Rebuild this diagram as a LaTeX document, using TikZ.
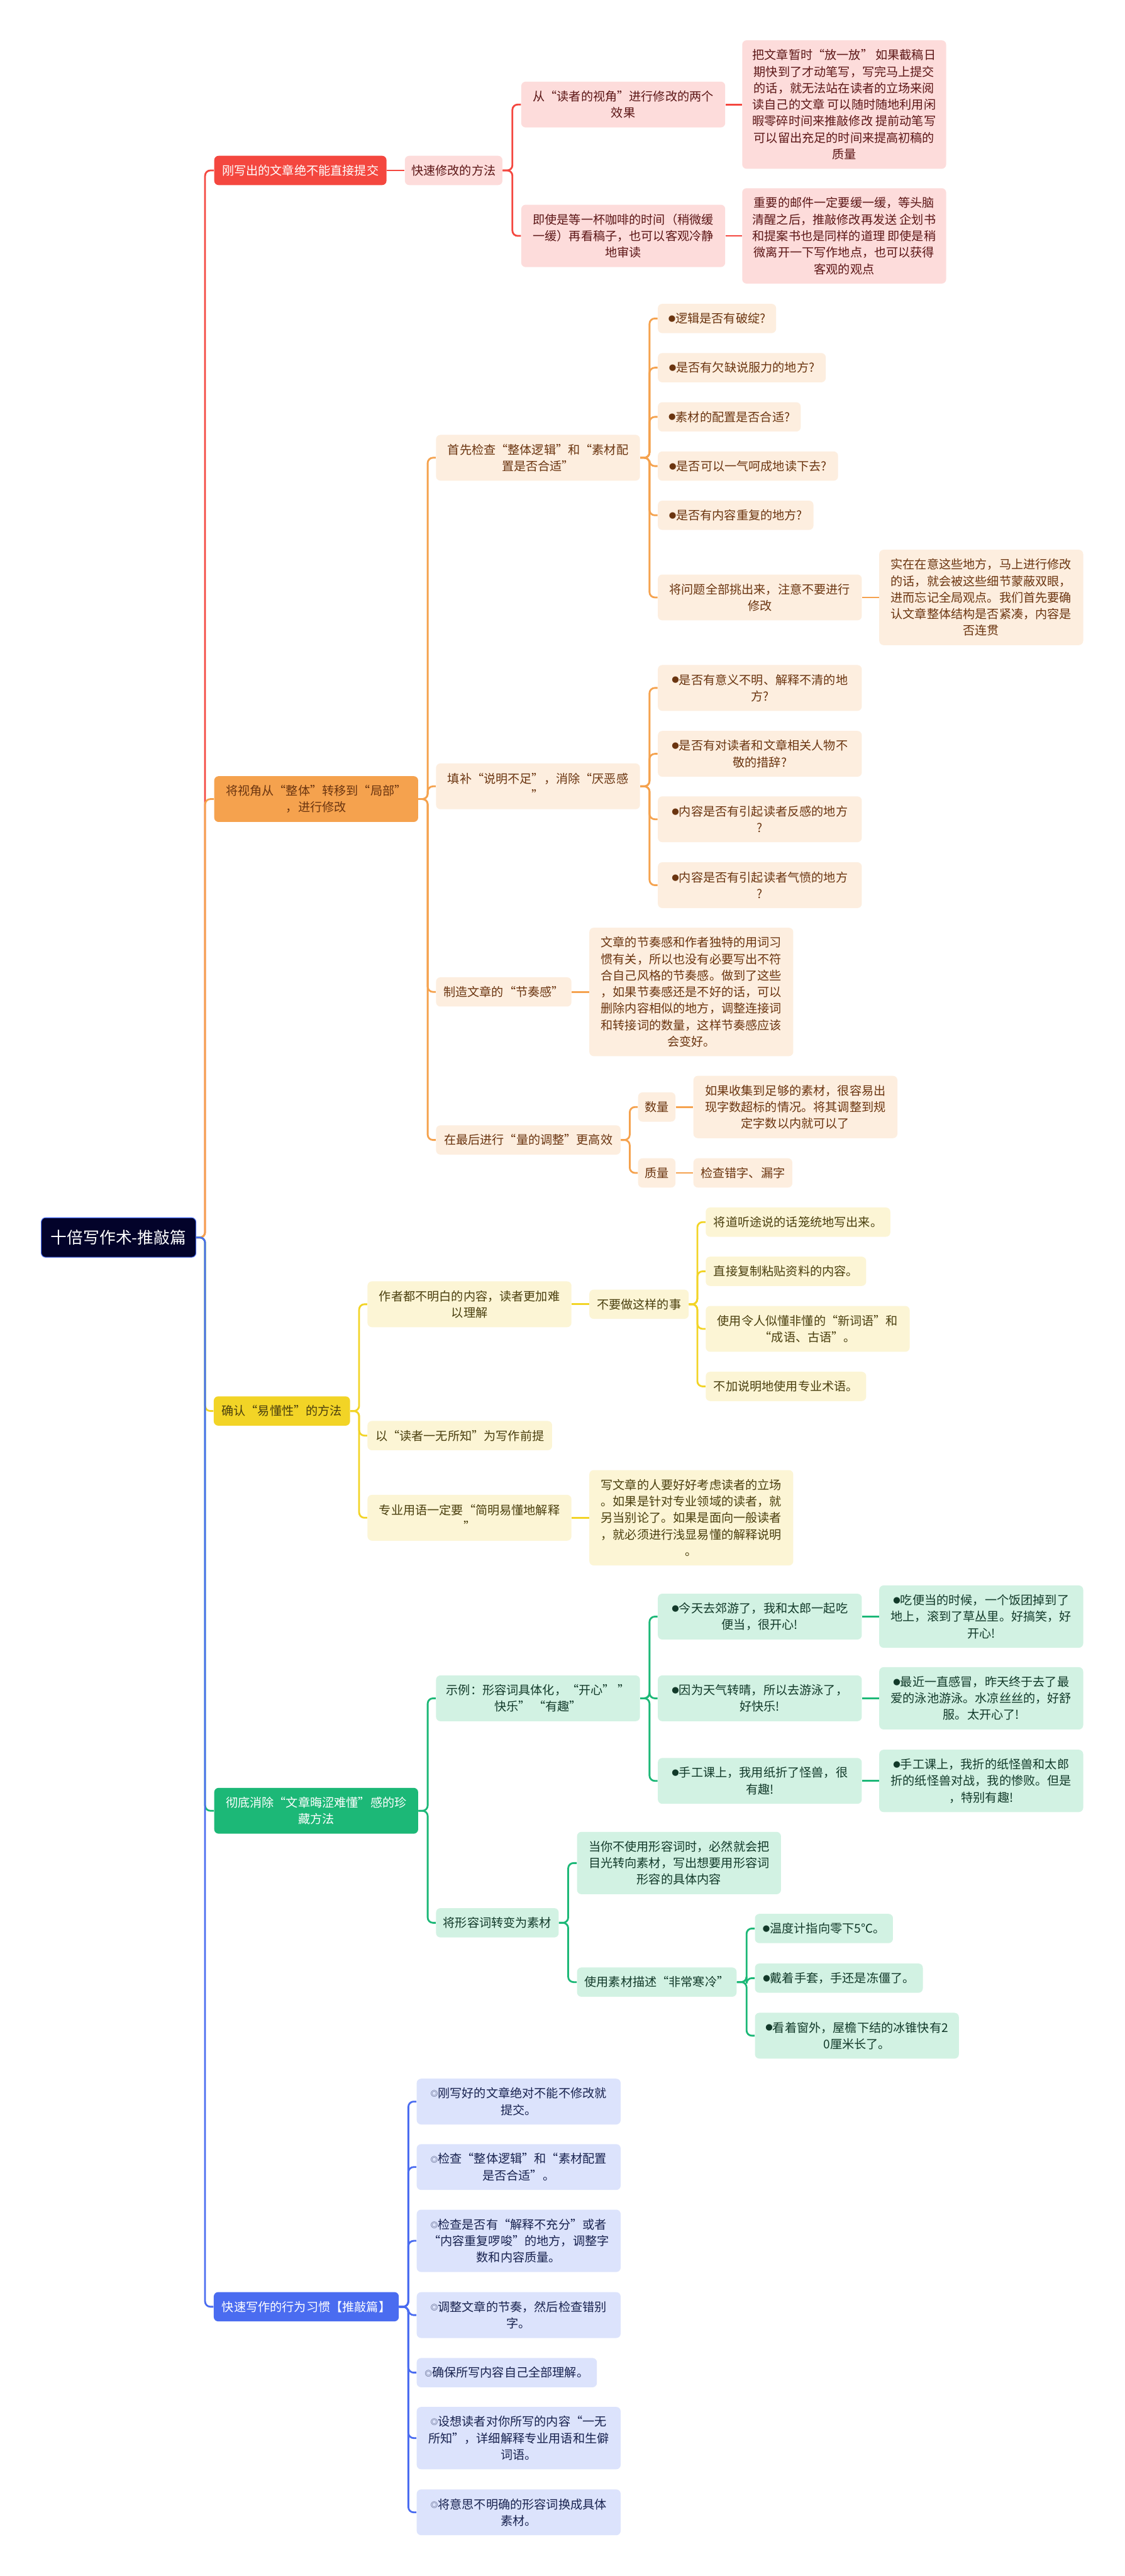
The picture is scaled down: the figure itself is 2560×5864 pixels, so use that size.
\documentclass[tikz,border=0pt]{standalone}
\usepackage{fontspec}
\newfontfamily\cjk{Noto Sans CJK SC}

\definecolor{redA}{HTML}{F4473F}
\definecolor{redL}{HTML}{FDDCDB}
\definecolor{redT}{HTML}{5C1616}
\definecolor{orgA}{HTML}{F5A24E}
\definecolor{orgL}{HTML}{FDEEDF}
\definecolor{orgT}{HTML}{6B3510}
\definecolor{ylwA}{HTML}{F2D426}
\definecolor{ylwL}{HTML}{FCF5D5}
\definecolor{ylwT}{HTML}{4A3F0E}
\definecolor{grnA}{HTML}{1CB877}
\definecolor{grnL}{HTML}{D2F2E3}
\definecolor{grnT}{HTML}{123A2A}
\definecolor{bluA}{HTML}{4A6CF0}
\definecolor{bluL}{HTML}{DCE3FC}
\definecolor{bluT}{HTML}{18224F}
\definecolor{rootbg}{HTML}{03032A}

\newcommand\dotmark{\raisebox{0.12em}{\scalebox{0.6}{●}}}
\newcommand\ringmark{\raisebox{0.1em}{\scalebox{0.6}{◎}}}

\begin{document}
\begin{tikzpicture}[
    x=0.01cm, y=-0.01cm,
    box/.style={rounded corners=0.1cm, align=center, inner xsep=0.08cm, inner ysep=0.04cm,
        font=\cjk\fontsize{7.8pt}{10.7pt}\selectfont, anchor=west},
    nl/.style={minimum height=0.29cm+0.376cm*#1},
    wide/.style={minimum width=4.64cm},
    rootbox/.style={rounded corners=0.1cm, align=center, fill=rootbg, draw=bluA, line width=0.015cm,
        text=white, minimum width=3.52cm, minimum height=0.90cm, font=\cjk\fontsize{10.5pt}{12pt}\selectfont},
    redtop/.style={box, fill=redA, text=white},
    redbox/.style={box, fill=redL, text=redT},
    redline/.style={draw=redA, line width=0.04cm, rounded corners=0.12cm},
    orgtop/.style={box, fill=orgA, text=orgT},
    orgbox/.style={box, fill=orgL, text=orgT},
    orgline/.style={draw=orgA, line width=0.04cm, rounded corners=0.12cm},
    ylwtop/.style={box, fill=ylwA, text=ylwT},
    ylwbox/.style={box, fill=ylwL, text=ylwT},
    ylwline/.style={draw=ylwA, line width=0.04cm, rounded corners=0.12cm},
    grntop/.style={box, fill=grnA, text=white},
    grnbox/.style={box, fill=grnL, text=grnT},
    grnline/.style={draw=grnA, line width=0.04cm, rounded corners=0.12cm},
    blutop/.style={box, fill=bluA, text=white},
    blubox/.style={box, fill=bluL, text=bluT},
    bluline/.style={draw=bluA, line width=0.04cm, rounded corners=0.12cm}
]
\useasboundingbox (0,0) rectangle (2560,5864);
\fill[white] (0,0) rectangle (2560,5864);
% Root
\node[rootbox] (root) at (270, 2817) {十倍写作术-推敲篇};

% Section 1
\node[redtop, minimum width=3.92cm, nl=1] (s1)  at (487, 388) {刚写出的文章绝不能直接提交};
\node[redbox, minimum width=2.22cm, nl=1] (s1a) at (921, 388) {快速修改的方法};
\node[redbox, wide, nl=2] (s1a1) at (1186, 238) {从“读者的视角”进行修改的两个\\效果};
\node[redbox, wide, nl=3] (s1a2) at (1186, 537) {即使是等一杯咖啡的时间（稍微缓\\一缓）再看稿子，也可以客观冷静\\地审读};
\node[redbox, wide, nl=7] (s1a1d) at (1689, 238) {把文章暂时“放一放” 如果截稿日\\期快到了才动笔写，写完马上提交\\的话，就无法站在读者的立场来阅\\读自己的文章 可以随时随地利用闲\\暇零碎时间来推敲修改 提前动笔写\\可以留出充足的时间来提高初稿的\\质量};
\node[redbox, wide, nl=5] (s1a2d) at (1689, 537) {重要的邮件一定要缓一缓，等头脑\\清醒之后，推敲修改再发送 企划书\\和提案书也是同样的道理 即使是稍\\微离开一下写作地点，也可以获得\\客观的观点};
\draw[redline] (root.east) -- ++(20,0) |- (s1.west);
\draw[redline] (s1) -- (s1a);
\draw[redline] (s1a.east) -- ++(22,0) |- (s1a1.west);
\draw[redline] (s1a.east) -- ++(22,0) |- (s1a2.west);
\draw[redline] (s1a1) -- (s1a1d);
\draw[redline] (s1a2) -- (s1a2d);

% Section 2
\node[orgtop, wide, nl=2] (s2) at (487, 1819) {将视角从“整体”转移到“局部”\\，进行修改};
\node[orgbox, wide, nl=2] (s2a) at (992, 1042) {首先检查“整体逻辑”和“素材配\\置是否合适”};
\node[orgbox, minimum width=2.69cm, nl=1] (s2a1) at (1497, 725)  {\dotmark 逻辑是否有破绽?};
\node[orgbox, minimum width=3.82cm, nl=1] (s2a2) at (1497, 837)  {\dotmark 是否有欠缺说服力的地方?};
\node[orgbox, minimum width=3.25cm, nl=1] (s2a3) at (1497, 949)  {\dotmark 素材的配置是否合适?};
\node[orgbox, minimum width=4.10cm, nl=1] (s2a4) at (1497, 1061) {\dotmark 是否可以一气呵成地读下去?};
\node[orgbox, minimum width=3.54cm, nl=1] (s2a5) at (1497, 1173) {\dotmark 是否有内容重复的地方?};
\node[orgbox, wide, nl=2] (s2a6) at (1497, 1360) {将问题全部挑出来，注意不要进行\\修改};
\node[orgbox, wide, nl=5] (s2a6d) at (2001, 1360) {实在在意这些地方，马上进行修改\\的话，就会被这些细节蒙蔽双眼，\\进而忘记全局观点。我们首先要确\\认文章整体结构是否紧凑，内容是\\否连贯};
\node[orgbox, wide, nl=2] (s2b) at (992, 1790) {填补“说明不足”，消除“厌恶感\\”};
\node[orgbox, wide, nl=2] (s2b1) at (1497, 1566) {\dotmark 是否有意义不明、解释不清的地\\方?};
\node[orgbox, wide, nl=2] (s2b2) at (1497, 1716) {\dotmark 是否有对读者和文章相关人物不\\敬的措辞?};
\node[orgbox, wide, nl=2] (s2b3) at (1497, 1865) {\dotmark 内容是否有引起读者反感的地方\\?};
\node[orgbox, wide, nl=2] (s2b4) at (1497, 2015) {\dotmark 内容是否有引起读者气愤的地方\\?};
\node[orgbox, minimum width=3.08cm, nl=1] (s2c) at (992, 2258) {制造文章的“节奏感”};
\node[orgbox, wide, nl=7] (s2c1) at (1341, 2258) {文章的节奏感和作者独特的用词习\\惯有关，所以也没有必要写出不符\\合自己风格的节奏感。做到了这些\\，如果节奏感还是不好的话，可以\\删除内容相似的地方，调整连接词\\和转接词的数量，这样节奏感应该\\会变好。};
\node[orgbox, minimum width=4.20cm, nl=1] (s2d) at (992, 2595) {在最后进行“量的调整”更高效};
\node[orgbox, minimum width=0.85cm, nl=1] (s2d1) at (1452, 2520) {数量};
\node[orgbox, minimum width=0.85cm, nl=1] (s2d2) at (1452, 2670) {质量};
\node[orgbox, wide, nl=3] (s2d1a) at (1578, 2520) {如果收集到足够的素材，很容易出\\现字数超标的情况。将其调整到规\\定字数以内就可以了};
\node[orgbox, minimum width=2.25cm, nl=1] (s2d2a) at (1578, 2670) {检查错字、漏字};
\draw[orgline] (root.east) -- ++(20,0) |- (s2.west);
\foreach \k in {s2a,s2b,s2c,s2d}
    \draw[orgline] (s2.east) -- ++(21,0) |- (\k.west);
\foreach \k in {s2a1,s2a2,s2a3,s2a4,s2a5,s2a6}
    \draw[orgline] (s2a.east) -- ++(21,0) |- (\k.west);
\draw[orgline] (s2a6) -- (s2a6d);
\foreach \k in {s2b1,s2b2,s2b3,s2b4}
    \draw[orgline] (s2b.east) -- ++(21,0) |- (\k.west);
\draw[orgline] (s2c) -- (s2c1);
\draw[orgline] (s2d.east) -- ++(20,0) |- (s2d1.west);
\draw[orgline] (s2d.east) -- ++(20,0) |- (s2d2.west);
\draw[orgline] (s2d1) -- (s2d1a);
\draw[orgline] (s2d2) -- (s2d2a);

% Section 3
\node[ylwtop, minimum width=3.10cm, nl=1] (s3) at (486, 3212) {确认“易懂性”的方法};
\node[ylwbox, wide, nl=2] (s3a) at (836, 2969) {作者都不明白的内容，读者更加难\\以理解};
\node[ylwbox, minimum width=2.26cm, nl=1] (s3a1) at (1341, 2969) {不要做这样的事};
\node[ylwbox, minimum width=4.20cm, nl=1] (s3a1a) at (1606, 2782) {将道听途说的话笼统地写出来。};
\node[ylwbox, minimum width=3.65cm, nl=1] (s3a1b) at (1606, 2894) {直接复制粘贴资料的内容。};
\node[ylwbox, wide, nl=2] (s3a1c) at (1606, 3025) {使用令人似懂非懂的“新词语”和\\“成语、古语”。};
\node[ylwbox, minimum width=3.65cm, nl=1] (s3a1d) at (1606, 3156) {不加说明地使用专业术语。};
\node[ylwbox, minimum width=4.20cm, nl=1] (s3b) at (836, 3268) {以“读者一无所知”为写作前提};
\node[ylwbox, wide, nl=2] (s3c) at (836, 3455) {专业用语一定要“简明易懂地解释\\”};
\node[ylwbox, wide, nl=5] (s3c1) at (1341, 3455) {写文章的人要好好考虑读者的立场\\。如果是针对专业领域的读者，就\\另当别论了。如果是面向一般读者\\，就必须进行浅显易懂的解释说明\\。};
\draw[ylwline] (root.east) -- ++(20,0) |- (s3.west);
\foreach \k in {s3a,s3b,s3c}
    \draw[ylwline] (s3.east) -- ++(20,0) |- (\k.west);
\draw[ylwline] (s3a) -- (s3a1);
\foreach \k in {s3a1a,s3a1b,s3a1c,s3a1d}
    \draw[ylwline] (s3a1.east) -- ++(19,0) |- (\k.west);
\draw[ylwline] (s3c) -- (s3c1);

% Section 4
\node[grntop, wide, nl=2] (s4) at (487, 4122) {彻底消除“文章晦涩难懂”感的珍\\藏方法};
\node[grnbox, wide, nl=2] (s4a) at (992, 3866) {示例：形容词具体化，“开心” ”\\快乐” “有趣”};
\node[grnbox, wide, nl=2] (s4a1) at (1497, 3680) {\dotmark 今天去郊游了，我和太郎一起吃\\便当，很开心!};
\node[grnbox, wide, nl=2] (s4a2) at (1497, 3866) {\dotmark 因为天气转晴，所以去游泳了，\\好快乐!};
\node[grnbox, wide, nl=2] (s4a3) at (1497, 4054) {\dotmark 手工课上，我用纸折了怪兽，很\\有趣!};
\node[grnbox, wide, nl=3] (s4a1d) at (2001, 3680) {\dotmark 吃便当的时候，一个饭团掉到了\\地上，滚到了草丛里。好搞笑，好\\开心!};
\node[grnbox, wide, nl=3] (s4a2d) at (2001, 3866) {\dotmark 最近一直感冒，昨天终于去了最\\爱的泳池游泳。水凉丝丝的，好舒\\服。太开心了!};
\node[grnbox, wide, nl=3] (s4a3d) at (2001, 4054) {\dotmark 手工课上，我折的纸怪兽和太郎\\折的纸怪兽对战，我的惨败。但是\\，特别有趣!};
\node[grnbox, minimum width=2.79cm, nl=1] (s4b) at (992, 4377) {将形容词转变为素材};
\node[grnbox, wide, nl=3] (s4b1) at (1313, 4241) {当你不使用形容词时，必然就会把\\目光转向素材，写出想要用形容词\\形容的具体内容};
\node[grnbox, minimum width=3.63cm, nl=1] (s4b2) at (1313, 4512) {使用素材描述“非常寒冷”};
\node[grnbox, minimum width=3.14cm, nl=1] (s4b2a) at (1718, 4390) {\dotmark 温度计指向零下5℃。};
\node[grnbox, minimum width=3.82cm, nl=1] (s4b2b) at (1718, 4503) {\dotmark 戴着手套，手还是冻僵了。};
\node[grnbox, wide, nl=2] (s4b2c) at (1718, 4634) {\dotmark 看着窗外，屋檐下结的冰锥快有2\\0厘米长了。};
\draw[grnline] (root.east) -- ++(20,0) |- (s4.west);
\draw[grnline] (s4.east) -- ++(21,0) |- (s4a.west);
\draw[grnline] (s4.east) -- ++(21,0) |- (s4b.west);
\foreach \k in {1,2,3} {
    \draw[grnline] (s4a.east) -- ++(21,0) |- (s4a\k.west);
    \draw[grnline] (s4a\k) -- (s4a\k d);
}
\draw[grnline] (s4b.east) -- ++(21,0) |- (s4b1.west);
\draw[grnline] (s4b.east) -- ++(21,0) |- (s4b2.west);
\foreach \k in {s4b2a,s4b2b,s4b2c}
    \draw[grnline] (s4b2.east) -- ++(22,0) |- (\k.west);

% Section 5
\node[blutop, minimum width=4.21cm, nl=1] (s5) at (486, 5251) {快速写作的行为习惯【推敲篇】};
\node[blubox, wide, nl=2] (s5a) at (948, 4784) {\ringmark 刚写好的文章绝对不能不修改就\\提交。};
\node[blubox, wide, nl=2] (s5b) at (948, 4933) {\ringmark 检查“整体逻辑”和“素材配置\\是否合适”。};
\node[blubox, wide, nl=3] (s5c) at (948, 5101) {\ringmark 检查是否有“解释不充分”或者\\“内容重复啰唆”的地方，调整字\\数和内容质量。};
\node[blubox, wide, nl=2] (s5d) at (948, 5270) {\ringmark 调整文章的节奏，然后检查错别\\字。};
\node[blubox, minimum width=4.10cm, nl=1] (s5e) at (948, 5401) {\ringmark 确保所写内容自己全部理解。};
\node[blubox, wide, nl=3] (s5f) at (948, 5550) {\ringmark 设想读者对你所写的内容“一无\\所知”，详细解释专业用语和生僻\\词语。};
\node[blubox, wide, nl=2] (s5g) at (948, 5719) {\ringmark 将意思不明确的形容词换成具体\\素材。};
\draw[bluline] (root.east) -- ++(20,0) |- (s5.west);
\foreach \k in {s5a,s5b,s5c,s5d,s5e,s5f,s5g}
    \draw[bluline] (s5.east) -- ++(21,0) |- (\k.west);
\end{tikzpicture}
\end{document}
